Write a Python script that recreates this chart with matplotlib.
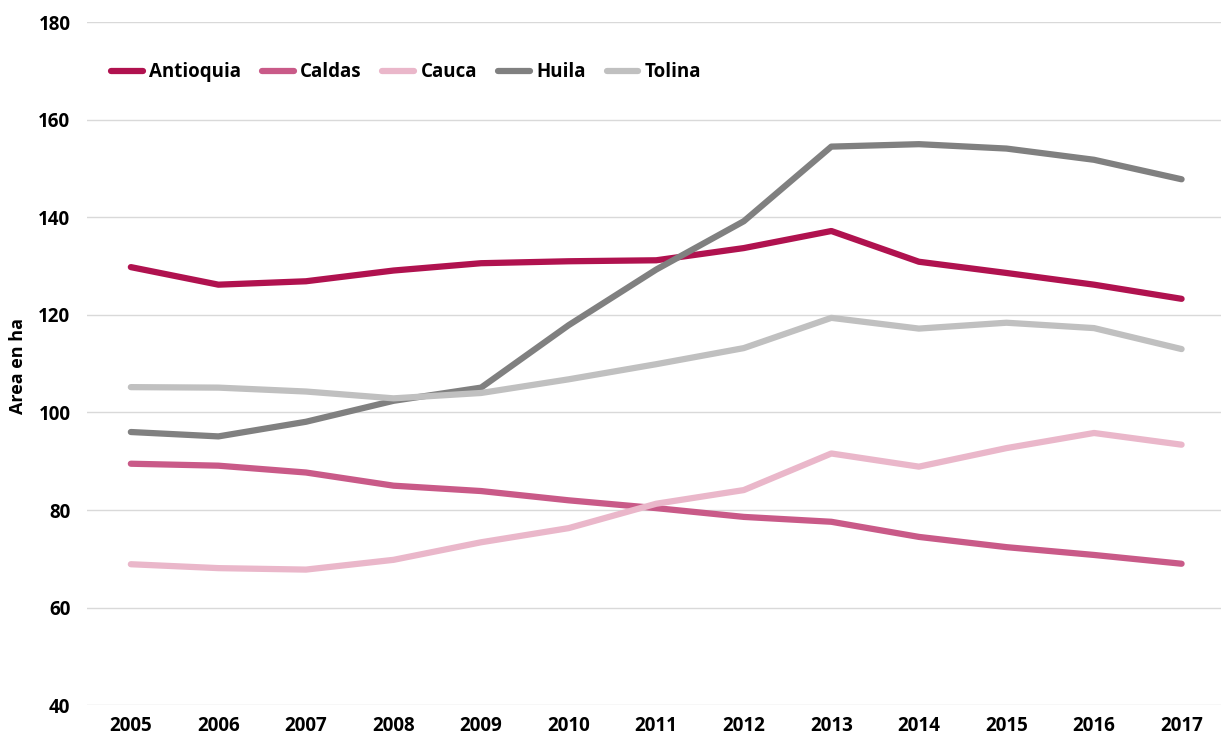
import matplotlib
matplotlib.use('Agg')
from matplotlib import pyplot as plt

plt.rcParams['font.family'] = ['Open Sans', 'DejaVu Sans']
plt.rcParams['font.weight'] = 'bold'

years = ['2005', '2006', '2007', '2008', '2009', '2010', '2011',
         '2012', '2013', '2014', '2015', '2016', '2017']

antioquia = [129.8, 126.2, 126.9, 129.1, 130.6, 131.0, 131.2, 133.7, 137.2, 130.9, 128.6, 126.2, 123.3]
caldas = [89.5, 89.1, 87.7, 85.0, 83.9, 82.0, 80.4, 78.6, 77.6, 74.5, 72.4, 70.8, 69.0]
cauca = [68.9, 68.1, 67.8, 69.8, 73.4, 76.3, 81.3, 84.1, 91.6, 88.9, 92.7, 95.8, 93.4]
huila = [96.0, 95.1, 98.1, 102.4, 105.1, 117.9, 129.3, 139.2, 154.5, 155.0, 154.1, 151.8, 147.8]
tolina = [105.2, 105.1, 104.3, 102.9, 104.0, 106.8, 109.9, 113.2, 119.4, 117.2, 118.4, 117.3, 113.0]

series = [
    ('Antioquia', antioquia, '#B0124F'),
    ('Caldas', caldas, '#C95A88'),
    ('Cauca', cauca, '#EAB7CA'),
    ('Huila', huila, '#808080'),
    ('Tolina', tolina, '#C0C0C0'),
]

fig = plt.figure(figsize=(12.21, 7.4), dpi=100)
ax = fig.add_axes([0.0713, 0.047, 0.9287, 0.923])

x = list(range(len(years)))
for name, vals, col in series:
    ax.plot(x, vals, color=col, lw=4.5, solid_capstyle='round',
            solid_joinstyle='round', label=name)

ax.set_xlim(-0.5, 12.45)
ax.set_ylim(40, 180)
ax.set_yticks(range(40, 181, 20))
ax.set_xticks(x)
ax.set_xticklabels(years)
ax.grid(axis='y', color='#D9D9D9', lw=1)
ax.set_axisbelow(True)
for s in ax.spines.values():
    s.set_visible(False)
ax.tick_params(length=0, labelsize=13.5, pad=8)
ax.tick_params(axis='y', pad=12)
for lab in ax.get_xticklabels() + ax.get_yticklabels():
    lab.set_fontweight('bold')
ax.set_ylabel('Area en ha', fontsize=13, fontweight='bold')
ax.yaxis.set_label_coords(-0.053, 0.496)

leg = ax.legend(loc='upper left', bbox_to_anchor=(0.006, 0.966), ncol=5,
                frameon=False, handlelength=1.7,
                handletextpad=0.35, columnspacing=1.1,
                prop={'weight': 'bold', 'size': 13.5})

fig.savefig('out.png', dpi=100)
